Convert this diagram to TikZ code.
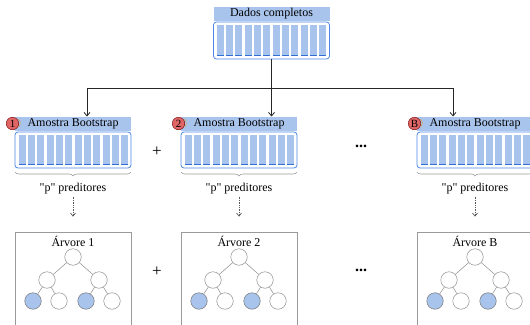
\documentclass[tikz,border=0pt]{standalone}
\usepackage{fontspec}
\setmainfont{Liberation Serif}
\usetikzlibrary{decorations.pathreplacing,arrows.meta}
\definecolor{hdrc}{HTML}{A9C4EC}
\definecolor{barc}{HTML}{A9C4EC}
\definecolor{bordc}{HTML}{4A86E8}
\definecolor{barlinec}{HTML}{2F6FD6}
\definecolor{redc}{HTML}{E06666}
\definecolor{leafc}{HTML}{A9C4EC}
\definecolor{grayc}{HTML}{9A9A9A}
\definecolor{tanc}{HTML}{C9A86B}
\tikzset{
  txt/.style={font=\fontsize{12}{13}\selectfont, inner sep=0pt},
  hdr/.style={txt, fill=hdrc, minimum width=116pt, minimum height=14pt},
  bodybox/.style={draw=bordc, line width=0.8pt, rounded corners=3pt, minimum width=116pt, inner sep=0pt, fill=white},
  badge/.style={circle, fill=redc, draw=red!45!black, line width=0.4pt, minimum size=12.5pt, inner sep=0pt, font=\fontsize{11}{12}\selectfont},
  bracestyle/.style={draw=grayc, line width=0.6pt, decorate, decoration={brace, amplitude=4pt, mirror}},
  dotarr/.style={draw=black!65, densely dotted, line width=0.7pt, -{Straight Barb[length=3pt,width=5pt]}},
  mainarr/.style={draw=black!85, line width=0.8pt},
  treebox/.style={draw=grayc, line width=0.8pt, minimum width=116pt, minimum height=98pt, inner sep=0pt},
  tnode/.style={circle, draw=black!45, line width=0.5pt, fill=white, minimum size=16.5pt, inner sep=0pt},
  tleaf/.style={tnode, fill=leafc, draw=black!55},
  tedge/.style={draw=black!45, line width=0.5pt},
  sym/.style={font=\fontsize{17}{18}\selectfont, inner sep=0pt},
  dots/.style={font=\bfseries\fontsize{16}{17}\selectfont, inner sep=0pt}
}
\newcommand\dblock[5]{%
  \node[hdr] (#1h) at (#2,#3+7) {#5};
  \node[bodybox, minimum height=#4 pt] (#1b) at (#2,#3+15+#4/2) {};
  \foreach \i in {0,...,11}{%
    \pgfmathsetmacro\bx{#2-58+3.5+\i*9+floor(\i/3)}%
    \fill[barc] (\bx,#3+18) rectangle (\bx+7,#3+12+#4);
    \draw[barlinec, line width=1.3pt] (\bx,#3+11.4+#4) -- (\bx+7,#3+11.4+#4);
  }}
\newcommand\sampleset[3]{% name, center x, badge text
  \dblock{#1}{#2}{117}{36}{Amostra Bootstrap}
  \node[badge] (#1c) at (#2-60.5,123.5) {#3};
  \draw[tanc, line width=0.7pt] (#2-54.5,119) to[bend left=50] (#2-54.5,127);
  \draw[bracestyle] (#2-58,172) -- (#2+58,172);
  \node[txt] (#1p) at (#2,189) {\textquotedbl p\textquotedbl{} preditores};
  \node[treebox] (#1t) at (#2,281) {};
  \node[txt] (#1l) at (#2,241) {Árvore #3};
  \draw[dotarr, shorten >=15pt] ([yshift=-2pt]#1p.south) -- (#1t.north);
  \node[tnode] (#1r) at (#2,257) {};
  \node[tnode] (#1m1) at (#2-26,280) {};
  \node[tnode] (#1m2) at (#2+26,280) {};
  \node[tleaf] (#1a) at (#2-40,301) {};
  \node[tnode] (#1bb) at (#2-14,301) {};
  \node[tleaf] (#1cc) at (#2+13,301) {};
  \node[tnode] (#1d) at (#2+39,301) {};
  \draw[tedge] (#1r) -- (#1m1) (#1r) -- (#1m2) (#1m1) -- (#1a) (#1m1) -- (#1bb) (#1m2) -- (#1cc) (#1m2) -- (#1d);
}
\begin{document}
\begin{tikzpicture}[x=1pt,y=-1pt]
\useasboundingbox (0,0) rectangle (530,324);
\dblock{m}{271.5}{7}{37}{Dados completos}
\sampleset{s1}{73}{1}
\sampleset{s2}{239}{2}
\sampleset{s3}{475}{B}
\coordinate (j) at (271.5,88);
\coordinate (t1) at (87,116.5);
\coordinate (t2) at (271.5,116.5);
\coordinate (t3) at (453,116.5);
\draw[mainarr] (mb.south) -- (j);
\draw[mainarr] (t1 |- j) -- (t3 |- j);
\draw[mainarr, -{Straight Barb[length=3.5pt,width=6pt]}] (t1 |- j) -- (t1);
\draw[mainarr, -{Straight Barb[length=3.5pt,width=6pt]}] (j) -- (t2);
\draw[mainarr, -{Straight Barb[length=3.5pt,width=6pt]}] (t3 |- j) -- (t3);
\node[sym] (p1) at (157,152) {+};
\node[sym] (p2) at (157,272) {+};
\node[dots] (d1) at (361,146) {...};
\node[dots] (d2) at (361,270) {...};
\end{tikzpicture}
\end{document}
